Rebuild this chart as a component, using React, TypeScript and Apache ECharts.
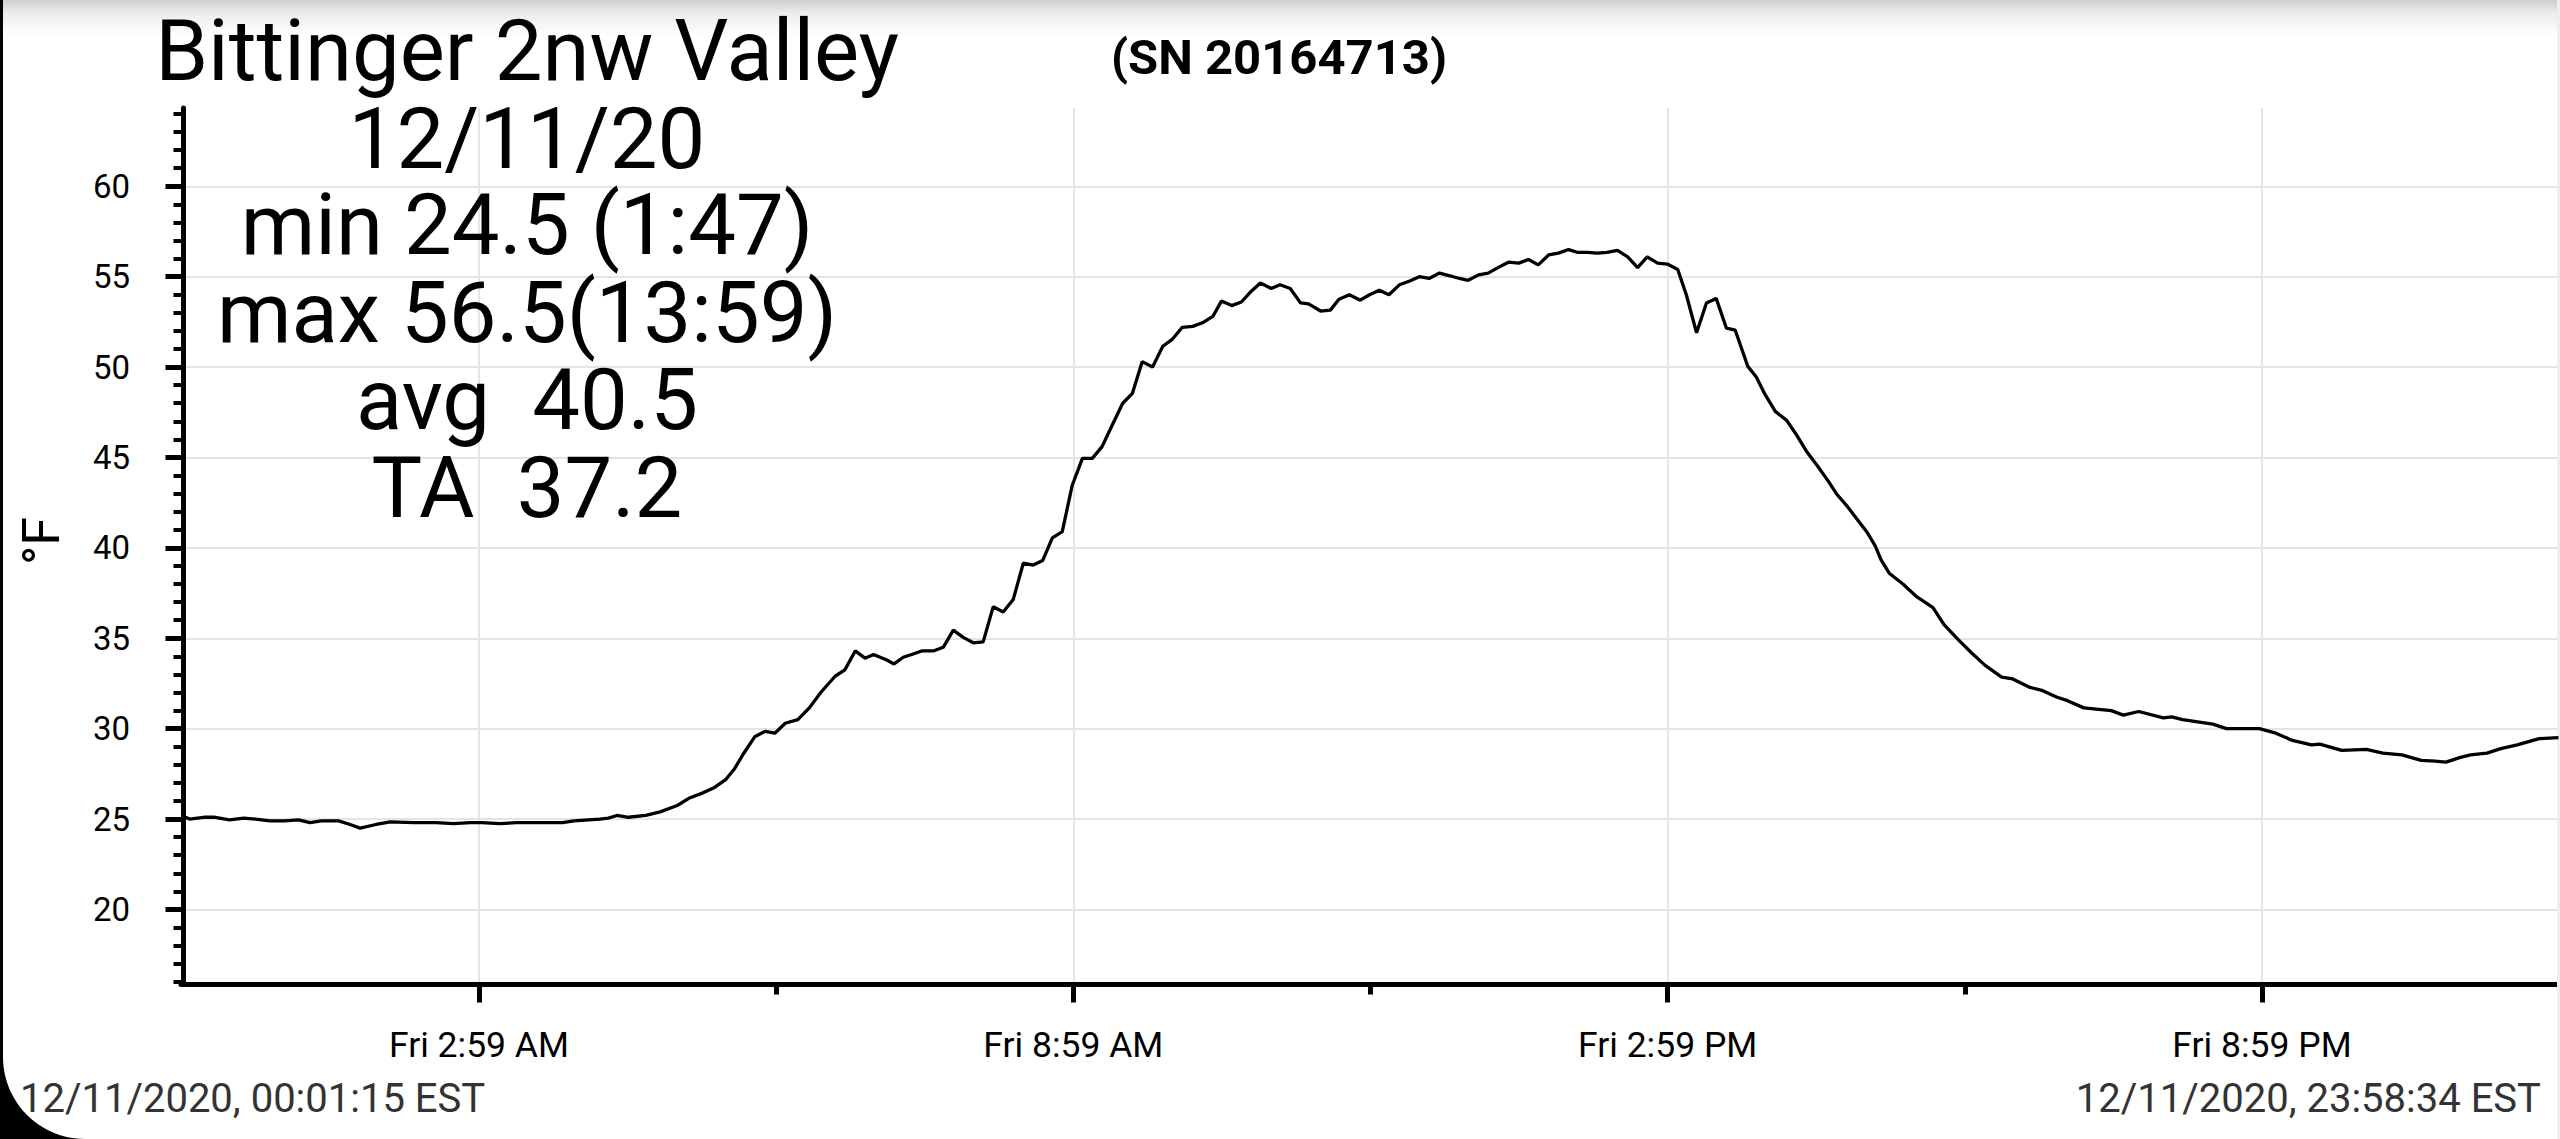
import React, { useEffect, useRef } from "react";
import * as echarts from "echarts";

// ---- data (minutes since midnight, °F) ----
const sampleMinutes = [
  1.25, 3.6, 12.3, 19.2, 27.9, 36.6, 43.6, 52.3, 61, 69.7, 76.6, 83.5, 94, 100.9, 107, 116.6, 125.3, 139.2,
  153.1, 163.5, 174, 180.9, 191.4, 201.8, 222.6, 229.6, 236.5, 252.2, 257.4, 262.6, 269.5, 280, 288.7, 299.1,
  306.1, 314.7, 321.7, 328.6, 333.9, 339.1, 346, 352.3, 358.2, 364.5, 372.1, 379.1, 386, 394.7, 400.6, 406.9,
  412.8, 418, 426, 430.4, 436, 441.1, 447.1, 454.2, 460.2, 466.3, 472.3, 478.4, 484.4, 490.5, 496.5, 502.6,
  508.7, 514.7, 520.4, 526.3, 532.3, 538.3, 544.5, 550.5, 556.4, 562.6, 568.9, 574.8, 580.7, 587, 593.2, 599.1,
  605, 611.3, 617.2, 623.5, 628.7, 634.9, 640.8, 646.8, 652.3, 658.9, 664.2, 670.4, 676.6, 681.5, 688.8, 694.7,
  699.9, 706.2, 712.8, 718.4, 724.3, 730.2, 736.5, 742.4, 748.6, 754.5, 760.8, 767.1, 772.9, 778.2, 784.5, 790.3,
  796.2, 802.5, 808.8, 814.7, 820.6, 826.9, 832.8, 839, 844.2, 850.5, 856.4, 862.3, 868.6, 874.8, 880.8, 886.6,
  892.9, 898.8, 905.1, 910.3, 916.5, 922.5, 928.4, 934.6, 939.9, 947.5, 952.7, 957.9, 964.2, 971.1, 976.7, 983.4,
  990, 996.6, 1001.6, 1008.2, 1014.9, 1019.9, 1024.8, 1028.2, 1033.2, 1041.5, 1049.8, 1059.7, 1066.4, 1074.7,
  1083, 1091.3, 1101.3, 1108, 1117.9, 1126.2, 1134.5, 1141.2, 1151.1, 1167.7, 1175, 1184.3, 1199.3, 1204.3,
  1210.9, 1229.2, 1237.5, 1257.4, 1267.4, 1277.4, 1289, 1294, 1307.3, 1322.2, 1332.2, 1343.8, 1355.4, 1363.8,
  1370.4, 1378.7, 1385.3, 1395.3, 1403.6, 1413.6, 1426.9, 1438.57,
];
const temperatures = [
  25.1, 25.0, 25.1, 25.1, 24.95, 25.05, 25.0, 24.9, 24.9, 24.95, 24.8, 24.9, 24.9, 24.7, 24.5, 24.7, 24.85, 24.8,
  24.8, 24.75, 24.8, 24.8, 24.75, 24.8, 24.8, 24.8, 24.9, 25.0, 25.05, 25.2, 25.1, 25.2, 25.4, 25.75,
  26.15, 26.45, 26.75, 27.2, 27.8, 28.6, 29.55, 29.85, 29.75, 30.3, 30.5, 31.15, 32.0, 32.9, 33.25, 34.3,
  33.9, 34.1, 33.8, 33.58, 33.95, 34.1, 34.3, 34.3, 34.5, 35.45, 35.05, 34.75, 34.8, 36.75, 36.45, 37.15,
  39.15, 39.05, 39.3, 40.55, 40.9, 43.45, 44.95, 44.95, 45.6, 46.8, 48.0, 48.55, 50.3, 50.0, 51.15, 51.55,
  52.2, 52.25, 52.45, 52.8, 53.65, 53.4, 53.6, 54.2, 54.65, 54.35, 54.55, 54.35, 53.55, 53.5, 53.1, 53.15,
  53.75, 54.0, 53.7, 54.0, 54.25, 54.0, 54.55, 54.75, 55.0, 54.9, 55.2, 55.05, 54.9, 54.8, 55.1, 55.2,
  55.5, 55.8, 55.75, 55.95, 55.65, 56.2, 56.3, 56.5, 56.35, 56.35, 56.3, 56.35, 56.45, 56.1, 55.5, 56.1,
  55.75, 55.7, 55.4, 54.0, 51.9, 53.55, 53.8, 52.15, 52.05, 50.05, 49.45, 48.5, 47.55, 47.05, 46.3, 45.3,
  44.5, 43.65, 42.95, 42.25, 41.45, 40.85, 40.1, 39.35, 38.6, 38.0, 37.3, 36.7, 35.75, 34.95,
  34.2, 33.5, 32.85, 32.75, 32.3, 32.1, 31.75, 31.55, 31.15, 31.0, 30.75, 30.95, 30.6, 30.65,
  30.5, 30.25, 30.0, 30.0, 29.75, 29.35, 29.1, 29.15, 28.8, 28.85, 28.65, 28.55, 28.25, 28.2,
  28.15, 28.4, 28.55, 28.65, 28.9, 29.1, 29.45, 29.5,
];

const xMajorTicks = [179, 539, 899, 1259];
const xTickLabels = ["Fri 2:59 AM", "Fri 8:59 AM", "Fri 2:59 PM", "Fri 8:59 PM"];
const xMinorTicks = [359, 719, 1079];
const yMajorTicks = [20, 25, 30, 35, 40, 45, 50, 55, 60];
const yMinorTicks = [
  16, 17, 18, 19, 21, 22, 23, 24, 26, 27, 28, 29, 31, 32, 33, 34, 36, 37, 38, 39, 41, 42, 43, 44, 46, 47, 48, 49,
  51, 52, 53, 54, 56, 57, 58, 59, 61, 62, 63, 64,
];
const statsLines = [
  "Bittinger 2nw Valley",
  "12/11/20",
  "min 24.5 (1:47)",
  "max 56.5(13:59)",
  "avg \u00a040.5",
  "TA \u00a037.2",
];
const serialText = "(SN 20164713)";
const startText = "12/11/2020, 00:01:15 EST";
const endText = "12/11/2020, 23:58:34 EST";
const unitText = "°F";

const X_MIN = -1.5;
const X_MAX = 1438.6;
const Y_MIN = 15.85;
const Y_MAX = 64.33;

const FONT = "Roboto, 'Noto Sans', sans-serif";

function txt(text: string, x: number, y: number, size: number, align: string, extra: any = {}) {
  return {
    type: "text",
    x,
    y,
    z: 10,
    ...extra.el,
    style: {
      text,
      x: 0,
      y: 0,
      fill: extra.fill || "#000",
      fontSize: size,
      fontFamily: FONT,
      fontWeight: extra.weight || "normal",
      align,
      textAlign: align,
      verticalAlign: "middle",
      textVerticalAlign: "middle",
    },
  };
}

export default function App() {
  const ref = useRef<HTMLDivElement>(null);

  useEffect(() => {
    document.body.style.margin = "0";
    document.body.style.overflow = "hidden";
    const chart = echarts.init(ref.current!, undefined, { renderer: "svg" });

    const data = sampleMinutes.map((t, i) => [t, temperatures[i]]);
    const tickLine = { color: "#000", width: 5 };
    const gridLine = { color: "#e4e4e4", width: 2 };

    const baselines = [80, 168, 254, 342, 429, 517];
    const titleSize = 85;

    const graphics: any[] = [
      {
        type: "rect",
        z: 1,
        shape: { x: 0, y: 0, width: 2560, height: 36 },
        style: {
          fill: new echarts.graphic.LinearGradient(0, 0, 0, 1, [
            { offset: 0, color: "#cdcdcd" },
            { offset: 0.35, color: "#ececec" },
            { offset: 1, color: "#ffffff" },
          ]),
        },
      },
      { type: "rect", z: 1, shape: { x: 2557, y: 0, width: 3, height: 1139 }, style: { fill: "#eeeeee" } },
      { type: "rect", z: 2, shape: { x: 0, y: 0, width: 3, height: 1139 }, style: { fill: "#000" } },
      { type: "rect", z: 2, shape: { x: 0, y: 1055, width: 86, height: 84 }, style: { fill: "#000" } },
      { type: "circle", z: 3, shape: { cx: 85, cy: 1057, r: 82 }, style: { fill: "#fff" } },
    ];
    statsLines.forEach((line, i) => {
      graphics.push(txt(line, 527, baselines[i] - 0.342 * titleSize, titleSize, "center"));
    });
    graphics.push(txt(serialText, 1279, 74 - 0.342 * 49, 49, "center", { weight: "bold" }));
    graphics.push(txt(startText, 20, 1112 - 0.342 * 40, 40, "left", { fill: "#333" }));
    graphics.push(txt(endText, 2541, 1112 - 0.342 * 40, 40, "right", { fill: "#333" }));
    graphics.push(txt(unitText, 41, 541, 52, "center", { el: { rotation: Math.PI / 2 } }));

    const option: any = {
      animation: false,
      backgroundColor: "#fff",
      grid: { left: 181, right: 1.5, top: 108, bottom: 154.5, containLabel: false },
      xAxis: [
        {
          type: "value",
          position: "bottom",
          min: X_MIN,
          max: X_MAX,
          axisLine: { show: true, lineStyle: tickLine },
          axisTick: { show: true, customValues: xMajorTicks, length: 18, lineStyle: tickLine },
          axisLabel: {
            show: true,
            customValues: xMajorTicks,
            margin: 42,
            fontSize: 35.5,
            fontFamily: FONT,
            color: "#000",
            formatter: (v: number) => {
              const i = xMajorTicks.findIndex((m) => Math.abs(m - v) < 0.5);
              return i >= 0 ? xTickLabels[i] : "";
            },
          },
          splitLine: { show: true, lineStyle: gridLine },
        },
        {
          type: "value",
          position: "bottom",
          min: X_MIN,
          max: X_MAX,
          axisLine: { show: false },
          axisTick: { show: true, customValues: xMinorTicks, length: 10, lineStyle: tickLine },
          axisLabel: { show: false },
          splitLine: { show: false },
        },
      ],
      yAxis: [
        {
          type: "value",
          position: "left",
          min: Y_MIN,
          max: Y_MAX,
          axisLine: { show: true, lineStyle: tickLine },
          axisTick: { show: true, customValues: yMajorTicks, length: 18, lineStyle: tickLine },
          axisLabel: {
            show: true,
            customValues: yMajorTicks,
            margin: 51,
            fontSize: 33,
            fontFamily: FONT,
            color: "#000",
          },
          splitLine: { show: true, lineStyle: gridLine },
        },
        {
          type: "value",
          position: "left",
          min: Y_MIN,
          max: Y_MAX,
          axisLine: { show: false },
          axisTick: { show: true, customValues: yMinorTicks, length: 10, lineStyle: { color: "#000", width: 4 } },
          axisLabel: { show: false },
          splitLine: { show: false },
        },
      ],
      graphic: { elements: graphics },
      series: [
        {
          type: "line",
          xAxisIndex: 0,
          yAxisIndex: 0,
          data,
          showSymbol: false,
          symbol: "none",
          lineStyle: { color: "#000", width: 3.3 },
          z: 5,
        },
      ],
    };
    chart.setOption(option);
    return () => chart.dispose();
  }, []);

  return <div ref={ref} style={{ width: "2560px", height: "1139px" }} />;
}
